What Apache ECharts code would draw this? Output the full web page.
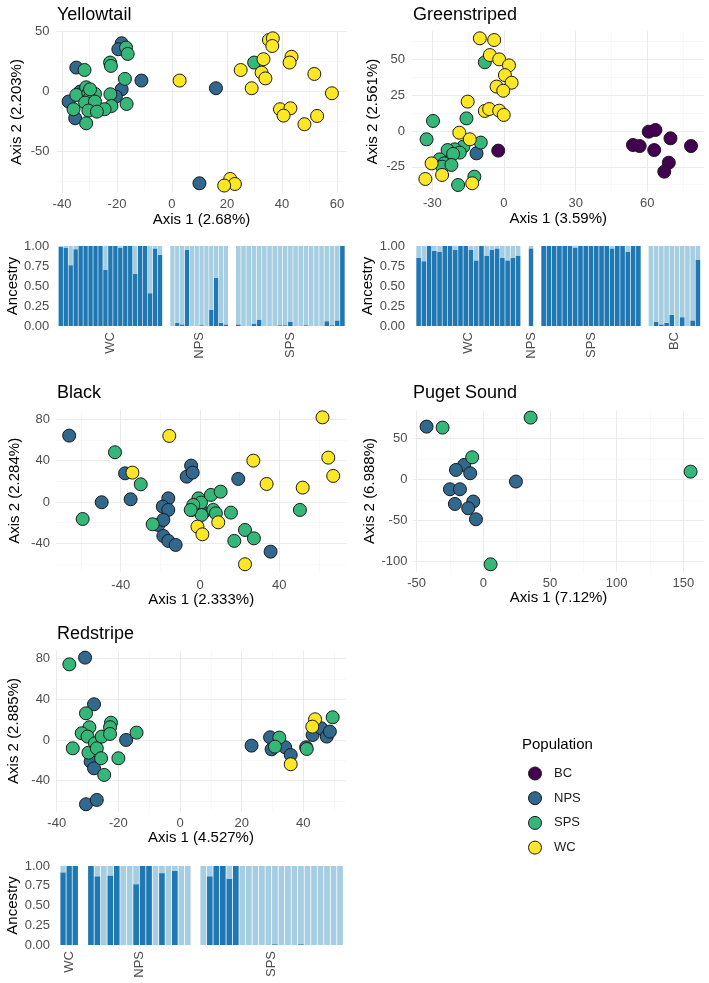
<!DOCTYPE html>
<html><head><meta charset="utf-8">
<script src="https://cdn.jsdelivr.net/npm/echarts@6/dist/echarts.min.js"></script>
<style>html,body{margin:0;padding:0;background:#fff}#c{width:709px;height:983px}</style>
</head><body><div id="c"></div>
<script>
// ---------- DATA ----------
const populations = ['BC', 'NPS', 'SPS', 'WC'];
const popColors = ['#440154', '#31688E', '#35B779', '#FDE725'];

// Yellowtail PCA
const yellowtailNPS = [[-18.3,40.3],[-19.5,35.3],[-34.8,20],[-11.1,9.2],[-18.3,1.9],[-20.4,-4.2],[-33.4,0],[-37.6,-8.3],[-35.2,-22.2],[10,-76.4],[16,2.8]];
const yellowtailSPS = [[-16.7,36.7],[-16.1,31.4],[-22.5,24.2],[-22.2,21.4],[-31.8,18],[-17.1,10.6],[-31.2,3.6],[-34.8,-2.8],[-30.4,-1.4],[-28,-1.9],[-30,-5.6],[-31.6,-9.2],[-28,-8.3],[-22.4,-2.2],[-22,-12],[-24.5,-14.7],[-35.8,-14.7],[-30.4,-15.8],[-27.3,-16.7],[-16.5,-10.3],[-31.2,-26.4],[29.9,24.2],[-29.8,1.9]];
const yellowtailWC = [[2.8,9.2],[35.3,43],[36.7,44.4],[36.5,38],[33.3,27],[43.5,29],[42.8,24.2],[25,18],[32.6,15.8],[34,11],[51.8,14.7],[29,2.8],[58.2,-1.4],[39.3,-14.7],[43.1,-13.9],[40.6,-20],[52.8,-20.3],[48.2,-27.2],[21.2,-72.8],[22.9,-77],[19,-78.3]];

// Greenstriped PCA
const greenstripedBC = [[-2.4,-13.7],[54,-9.8],[56.8,-10.5],[60.6,-0.5],[63.4,0.7],[69.7,-5.1],[62.9,-13.3],[78.3,-10.5],[69,-22.1],[67.1,-28.4]];
const greenstripedNPS = [[-11.5,-15.6]];
const greenstripedSPS = [[-8,48],[-29.7,7],[-15.7,8.8],[-32.4,-5.8],[-9.7,-8.1],[-17,-10.9],[-20.6,-12.8],[-23.6,-13.3],[-18.5,-15.1],[-21.3,-16],[-26.9,-19.8],[-25,-22.6],[-25.9,-24.9],[-22,-23.7],[-12.4,-31.9],[-19.2,-37.7]];
const greenstripedWC = [[-10.1,64.7],[-4.1,63.5],[-5.9,53],[-2,50],[2.1,45.8],[0.4,39],[3.2,33.7],[-3.1,31],[-0.3,28.1],[-15.2,20.5],[-8,14],[-6.2,15.3],[-2,14.2],[-0.1,11.2],[-18.7,-1.2],[-14.3,-5.8],[-30.3,-22.6],[-25.9,-30.7],[-32.9,-33.5],[-13.3,-36.5]];

// Black PCA
const blackNPS = [[-66,64.2],[-49.6,-0.3],[-37.8,27.7],[-35,2.6],[-4.5,35.2],[-6.7,24.5],[-3.7,28.4],[-16,3.5],[-18.8,-4.5],[-16,-7.7],[-21,-22.3],[-18.5,-17.4],[-18.5,-32.9],[-16,-37.7],[-12.3,-41.6],[-4.2,-7.7],[1.7,-10.3],[19.3,22.3],[35.6,-48.1]];
const blackSPS = [[-42.9,48.1],[-59.2,-16.5],[-29.9,17.1],[-23.9,-21.6],[-0.8,3.5],[0.5,-0.6],[5.5,6.8],[10.4,10],[-3.4,-2.9],[0.8,-12.6],[6.7,-7.7],[8,-11],[15.6,-10.3],[22.7,-27.1],[27.2,-35.2],[17.3,-37.7],[50.4,-7.7],[-4.7,-7.7]];
const blackWC = [[-15.5,63.9],[-34.1,28.4],[26.9,40],[33.6,17.4],[51.8,13.9],[61.8,81.9],[64.7,42.9],[67.2,25.2],[9.2,-19.7],[-1.3,-23.9],[1.2,-31.3],[22.7,-60.3]];

// Puget Sound PCA
const pugetNPS = [[-42.5,64.2],[-14.3,17.5],[-20.5,11.4],[-9.8,7.3],[-25,-12.2],[-17.5,-12.2],[24.5,-2.8],[-21.3,-30.1],[-7.5,-27.2],[-11.3,-35.4],[-5.5,-48.8]];
const pugetSPS = [[-30.5,63],[-8.3,26.8],[35.5,75.2],[155.5,9.3],[5.5,-103.7]];

// Redstripe PCA
const redstripeNPS = [[-30.8,81],[-27.9,35.1],[-17.5,0],[-29,-21.3],[-27.9,-27.9],[-30.5,-63.3],[-27,-59],[23.2,-5.6],[29.2,2.6],[29.7,-9.2],[34.1,-7.2],[35.9,-14.8],[40.9,-7.2],[43,4.9],[45.8,11.5],[47.6,3.3],[48.6,8.2]];
const redstripeSPS = [[-35.9,74.4],[-30.5,26.2],[-29.4,12.5],[-31.9,6.6],[-30,3.3],[-34.8,-8.2],[-29.7,-12.5],[-27.6,-3.3],[-27,-8.2],[-25.4,3.3],[-22.4,17],[-22.7,12.5],[-22.7,5.9],[-25.6,-18],[-24.6,-34.4],[-20,-18],[-14.1,7.2],[32.2,2.3],[30.8,-6.6],[41.1,-8.9],[49.5,22.3]];
const redstripeWC = [[43.8,20.3],[42.9,13.1],[35.9,-23.9]];

// Ancestry (proportion of cluster 1)
const yellowtailAncWC = [0.99,0.98,0.76,0.96,1,1,1,1,1,0.70,1,1,0.98,1,1,0.65,1,1,0.41,0.97,0.89];
const yellowtailAncNPS = [0,0.04,0.02,0.95,0,0,0.01,0,0.20,0.60,0.04,0.02];
const yellowtailAncSPS = [0.02,0,0,0.03,0.08,0,0.005,0,0.01,0.01,0.05,0,0,0.01,0,0,0,0.06,0.01,0.07,1.0];
const greenstripedAncWC = [0.85,0.81,1.0,0.94,0.93,1.0,1.0,0.95,1.0,1.0,0.95,0.82,1.0,0.88,0.95,0.97,0.85,0.82,0.85,0.88];
const greenstripedAncNPS = [0.97];
const greenstripedAncSPS = [1,1,1,1,1,1,0.98,1,1,1,1,1,1,0.97,1,1,0.93,1,1];
const greenstripedAncBC = [0,0.05,0.02,0.04,0.14,0,0.11,0,0.07,0.83];
const redstripeAncWC = [0.92,1,1];
const redstripeAncNPS = [1,0.87,0,0.88,1,0,0,0.77,1,1,0,0.91,0,0.94,0,0];
const redstripeAncSPS = [0,0.87,1,1,0.84,1,0,0,0,0,0,0.01,0,0,0,0.01,0,0,0,0,0,0];

// Tick labels (major) and minor grid positions
const yellowtailXTicks = [-40,-20,0,20,40,60], yellowtailXMinor = [-30,-10,10,30,50];
const yellowtailYTicks = [-50,0,50], yellowtailYMinor = [-75,-25,25];
const greenstripedXTicks = [-30,0,30,60], greenstripedXMinor = [-15,15,45,75];
const greenstripedYTicks = [-25,0,25,50], greenstripedYMinor = [-37.5,-12.5,12.5,37.5,62.5];
const blackXTicks = [-40,0,40], blackXMinor = [-60,-20,20,60];
const blackYTicks = [-40,0,40,80], blackYMinor = [-60,-20,20,60];
const pugetXTicks = [-50,0,50,100,150], pugetXMinor = [-25,25,75,125];
const pugetYTicks = [-100,-50,0,50], pugetYMinor = [-75,-25,25,75];
const redstripeXTicks = [-40,-20,0,20,40], redstripeXMinor = [-30,-10,10,30,50];
const redstripeYTicks = [-40,0,40,80], redstripeYMinor = [-60,-20,20,60];
const ancestryTicks = [0, 0.25, 0.5, 0.75, 1];

// ---------- LAYOUT ----------
const FONT = '"Liberation Sans", Arial, Helvetica, sans-serif';
const TICK_COLOR = '#4D4D4D';
const MAJOR = '#EBEBEB', MINOR = '#F3F3F3';

const scatterPanels = [
  {title:'Yellowtail', tpos:[57,15], xName:'Axis 1 (2.68%)', yName:'Axis 2 (2.203%)',
   box:[56.5,31,290,162], xr:[-42,63.5], yr:[-84.5,50.5],
   xt:yellowtailXTicks, xm:yellowtailXMinor, yt:yellowtailYTicks, ym:yellowtailYMinor,
   xGap:17, xMargin:5, yGap:32, yMargin:7,
   pops:[['NPS',yellowtailNPS],['SPS',yellowtailSPS],['WC',yellowtailWC]]},
  {title:'Greenstriped', tpos:[413,15], xName:'Axis 1 (3.59%)', yName:'Axis 2 (2.561%)',
   box:[412,31,292.4,161.3], xr:[-38.5,83.9], yr:[-42.8,69.8],
   xt:greenstripedXTicks, xm:greenstripedXMinor, yt:greenstripedYTicks, ym:greenstripedYMinor,
   xGap:17, xMargin:5, yGap:32, yMargin:7,
   pops:[['BC',greenstripedBC],['NPS',greenstripedNPS],['SPS',greenstripedSPS],['WC',greenstripedWC]]},
  {title:'Black', tpos:[57,393], xName:'Axis 1 (2.333%)', yName:'Axis 2 (2.284%)',
   box:[55.9,410,290.6,161.6], xr:[-72.7,73.9], yr:[-67.4,89],
   xt:blackXTicks, xm:blackXMinor, yt:blackYTicks, ym:blackYMinor,
   xGap:18, xMargin:7, yGap:34, yMargin:6,
   pops:[['NPS',blackNPS],['SPS',blackSPS],['WC',blackWC]]},
  {title:'Puget Sound', tpos:[413,393], xName:'Axis 1 (7.12%)', yName:'Axis 2 (6.988%)',
   box:[413.4,410.3,290.4,161.3], xr:[-52.4,165.4], yr:[-112.6,84.1],
   xt:pugetXTicks, xm:pugetXMinor, yt:pugetYTicks, ym:pugetYMinor,
   xGap:16, xMargin:5, yGap:36, yMargin:6,
   pops:[['NPS',pugetNPS],['SPS',pugetSPS]]},
  {title:'Redstripe', tpos:[57,634], xName:'Axis 1 (4.527%)', yName:'Axis 2 (2.885%)',
   box:[56.1,650.3,289.8,161.3], xr:[-40.2,53.8], yr:[-70.5,88.2],
   xt:redstripeXTicks, xm:redstripeXMinor, yt:redstripeYTicks, ym:redstripeYMinor,
   xGap:19, xMargin:5, yGap:35, yMargin:6,
   pops:[['NPS',redstripeNPS],['SPS',redstripeSPS],['WC',redstripeWC]]}
];

const ancestryPanels = [
  {top:246, height:80, yGap:33, yMargin:9, labelMargin:6, groups:[
    {name:'WC', values:yellowtailAncWC, x0:58.3, x1:162.5},
    {name:'NPS', values:yellowtailAncNPS, x0:170, x1:228.3},
    {name:'SPS', values:yellowtailAncSPS, x0:235.7, x1:345}]},
  {top:246, height:80, yGap:35, yMargin:11, labelMargin:6, groups:[
    {name:'WC', values:greenstripedAncWC, x0:416, x1:520.7},
    {name:'NPS', values:greenstripedAncNPS, x0:528.5, x1:533.5},
    {name:'SPS', values:greenstripedAncSPS, x0:541, x1:641},
    {name:'BC', values:greenstripedAncBC, x0:648.3, x1:700.5}]},
  {top:866, height:79, yGap:35, yMargin:10, labelMargin:6, groups:[
    {name:'WC', values:redstripeAncWC, x0:60, x1:78.3},
    {name:'NPS', values:redstripeAncNPS, x0:87.7, x1:191},
    {name:'SPS', values:redstripeAncSPS, x0:200, x1:343.3}]}
];

// ---------- BUILD ----------
const option = {
  animation: false,
  backgroundColor: '#ffffff',
  textStyle: {fontFamily: FONT},
  grid: [], xAxis: [], yAxis: [], series: [], graphic: [],
  legend: {
    data: populations, orient: 'vertical', left: 523, top: 761.5,
    itemWidth: 28, itemHeight: 13, itemGap: 10.7, icon: 'circle', selectedMode: false,
    itemStyle: {borderColor: '#1A1A1A', borderWidth: 1},
    textStyle: {fontSize: 13, color: '#1A1A1A', fontFamily: FONT, padding: [0,0,0,0]}
  }
};

function gridLines(gi, xs, ys, color, width) {
  return {
    type: 'line', xAxisIndex: gi, yAxisIndex: gi, data: [], silent: true, z: 0, zlevel: 0,
    markLine: {
      silent: true, symbol: ['none','none'], animation: false, z: 0,
      label: {show: false}, emphasis: {disabled: true},
      lineStyle: {color: color, width: width, type: 'solid'},
      data: xs.map(v => ({xAxis: v})).concat(ys.map(v => ({yAxis: v})))
    }
  };
}

scatterPanels.forEach(p => {
  const gi = option.grid.length;
  option.grid.push({left:p.box[0], top:p.box[1], width:p.box[2], height:p.box[3], containLabel:false, outerBoundsMode:'none'});
  option.xAxis.push({
    type:'value', gridIndex:gi, min:p.xr[0], max:p.xr[1],
    name:p.xName, nameLocation:'middle', nameGap:p.xGap,
    nameTextStyle:{fontSize:15, color:'#000', fontFamily:FONT},
    axisLine:{show:false}, axisTick:{show:false}, splitLine:{show:false}, minorSplitLine:{show:false},
    axisLabel:{customValues:p.xt, margin:p.xMargin, fontSize:13, color:TICK_COLOR, fontFamily:FONT}
  });
  option.yAxis.push({
    type:'value', gridIndex:gi, min:p.yr[0], max:p.yr[1],
    name:p.yName, nameLocation:'middle', nameGap:p.yGap,
    nameTextStyle:{fontSize:15, color:'#000', fontFamily:FONT},
    axisLine:{show:false}, axisTick:{show:false}, splitLine:{show:false}, minorSplitLine:{show:false},
    axisLabel:{customValues:p.yt, margin:p.yMargin, fontSize:13, color:TICK_COLOR, fontFamily:FONT}
  });
  option.series.push(gridLines(gi, p.xm, p.ym, MINOR, 0.6));
  option.series.push(gridLines(gi, p.xt, p.yt, MAJOR, 1));
  p.pops.forEach(([pop, data]) => {
    const ci = populations.indexOf(pop);
    option.series.push({
      type:'scatter', name:pop, xAxisIndex:gi, yAxisIndex:gi, data:data,
      symbol:'circle', symbolSize:13, silent:true, z:10,
      itemStyle:{color:popColors[ci], borderColor:'#1A1A1A', borderWidth:1, opacity:1}
    });
  });
  option.graphic.push({type:'text', x:p.tpos[0], y:p.tpos[1], silent:true,
    style:{text:p.title, fontSize:18, fontFamily:FONT, fill:'#000', verticalAlign:'middle', align:'left'}});
});

ancestryPanels.forEach(ap => {
  ap.groups.forEach((g, k) => {
    const gi = option.grid.length;
    option.grid.push({left:g.x0, top:ap.top, width:g.x1 - g.x0, height:ap.height, containLabel:false, outerBoundsMode:'none'});
    const xi = option.xAxis.length;
    option.xAxis.push({type:'category', gridIndex:gi, data:g.values.map((_, i) => String(i + 1)),
      axisLine:{show:false}, axisTick:{show:false}, axisLabel:{show:false}, splitLine:{show:false}});
    option.xAxis.push({type:'category', gridIndex:gi, data:[g.name], position:'bottom',
      axisLine:{show:false}, axisTick:{show:false}, splitLine:{show:false},
      axisLabel:{rotate:90, margin:ap.labelMargin, fontSize:13, color:TICK_COLOR, fontFamily:FONT}});
    const yi = option.yAxis.length;
    option.yAxis.push({type:'value', gridIndex:gi, min:ancestryTicks[0], max:ancestryTicks[ancestryTicks.length-1], interval:0.25,
      name: k === 0 ? 'Ancestry' : '', nameLocation:'middle', nameGap:ap.yGap,
      nameTextStyle:{fontSize:15, color:'#000', fontFamily:FONT},
      axisLine:{show:false}, axisTick:{show:false}, splitLine:{show:false},
      axisLabel:{show: k === 0, margin:ap.yMargin, fontSize:13, color:TICK_COLOR, fontFamily:FONT,
        formatter: v => v.toFixed(2)}});
    option.series.push({type:'bar', xAxisIndex:xi, yAxisIndex:yi, stack:'anc' + gi, data:g.values,
      barCategoryGap:'12%', silent:true, itemStyle:{color:'#1F78B4'}});
    option.series.push({type:'bar', xAxisIndex:xi, yAxisIndex:yi, stack:'anc' + gi,
      data:g.values.map(v => +(1 - v).toFixed(4)),
      barCategoryGap:'12%', silent:true, itemStyle:{color:'#A6CEE3'}});
  });
});

option.graphic.push({type:'text', x:522, y:745, silent:true,
  style:{text:'Population', fontSize:15, fontFamily:FONT, fill:'#000', verticalAlign:'middle', align:'left'}});

const chart = echarts.init(document.getElementById('c'), null, {renderer:'canvas'});
chart.setOption(option);
</script>
</body></html>
